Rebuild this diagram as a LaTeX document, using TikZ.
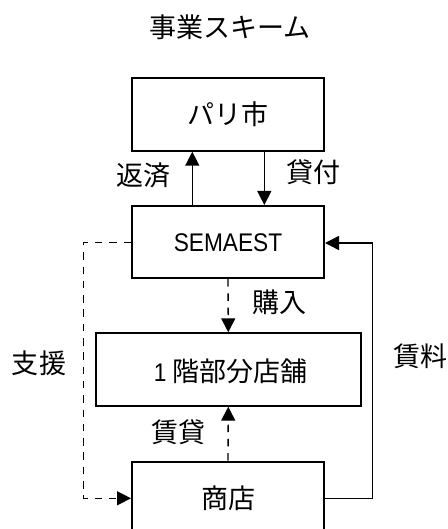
\documentclass[tikz,border=0pt]{standalone}
\usepackage{fontspec}
\setmainfont{Noto Sans CJK JP}
\newfontfamily\latinf{Liberation Sans}
\newcommand{\lat}[1]{{\fontsize{25.5}{28}\selectfont\latinf\scalebox{0.89}[1]{#1}}}
\usetikzlibrary{arrows.meta}
\begin{document}
\begin{tikzpicture}[x=1pt,y=-1pt,
  box/.style={draw=black,line width=2pt,inner sep=0pt},
  lbl/.style={font=\fontsize{27}{30}\selectfont,inner sep=0pt,anchor=center},
  conn/.style={line width=1.4pt,-{Triangle[length=14pt,width=14pt]}},
  dsh/.style={conn,dash pattern=on 7.5pt off 6.8pt}]
\clip (0,0) rectangle (447,529);
\useasboundingbox (0,0) rectangle (447,529);
% boxes
\node[box,minimum width=192pt,minimum height=73pt] (paris) at (228,114.2) {};
\node[lbl] at (227.5,114.7) {パリ市};
\node[box,minimum width=192pt,minimum height=72pt] (sem) at (228,242) {};
\node[lbl] at (228,242.5) {\lat{SEMAEST}};
\node[box,minimum width=265pt,minimum height=72.4pt] (shop1) at (228.3,369.5) {};
\node[lbl] at (230.8,370.8) {\lat{1} 階部分店舗};
\node[box,minimum width=192pt,minimum height=80pt] (store) at (228,501.7) {};
\node[lbl] at (228,498) {商店};
% title and labels
\node[lbl] (title) at (230,27.5) {事業スキーム};
\node[lbl] (l1) at (143,175) {返済};
\node[lbl] (l2) at (313,172) {貸付};
\node[lbl] (l3) at (39,363) {支援};
\node[lbl] (l4) at (279,302.5) {購入};
\node[lbl] (l5) at (178,432.5) {賃貸};
\node[lbl] (l6) at (420,356.7) {賃料};
% coordinates
\coordinate (dl) at (83.3,242.7);
\coordinate (dlb) at (83.3,498.3);
\coordinate (rr) at (372.3,498.3);
\coordinate (rt) at (372.3,243);
% connectors
\draw[conn] (sem.north -| 192.3,0) -- (paris.south -| 192.3,0);
\draw[conn] (paris.south -| 264.3,0) -- (sem.north -| 264.3,0);
\draw[dsh] (sem.south) -- (shop1.north);
\draw[dsh] (store.north) -- (shop1.south);
\draw[dsh] (sem.west |- dl) -- (dl) -- (dlb) -- (store.west |- dlb);
\draw[conn] (store.east |- rr) -- (rr) -- (rt) -- (sem.east |- rt);
\end{tikzpicture}
\end{document}
